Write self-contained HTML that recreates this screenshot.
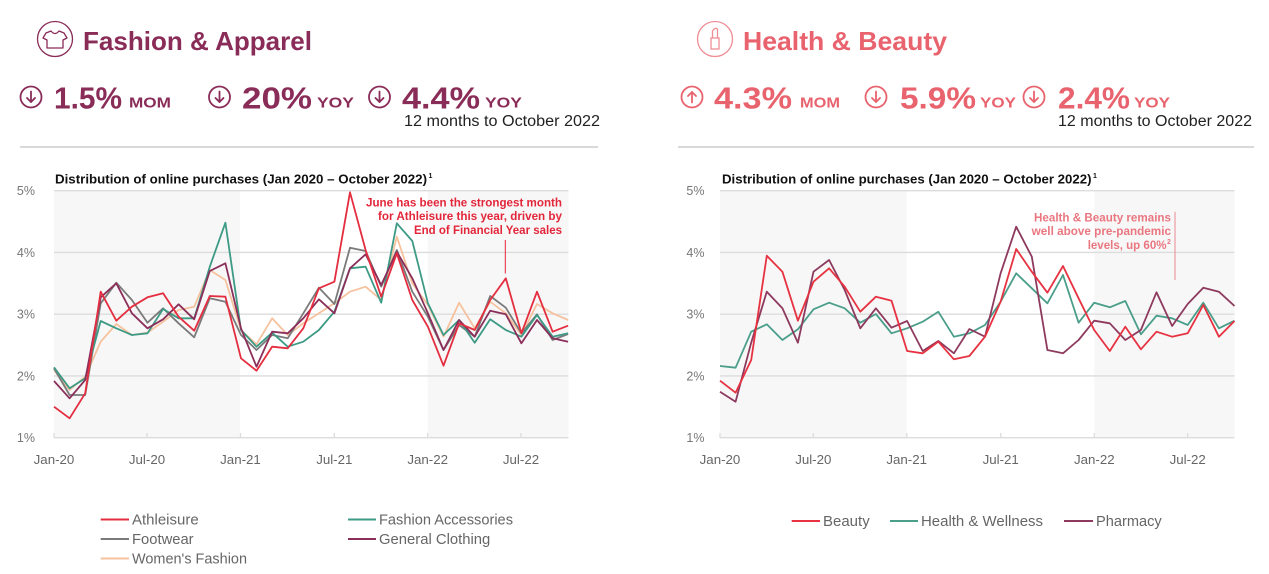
<!DOCTYPE html>
<html>
<head>
<meta charset="utf-8">
<style>
html,body{margin:0;padding:0;background:#fff;}
svg{display:block;}
text{font-family:"Liberation Sans",Arial,sans-serif;}
</style>
</head>
<body>
<svg width="1269" height="574" viewBox="0 0 1269 574" xmlns="http://www.w3.org/2000/svg">
<rect width="1269" height="574" fill="#fff"/>

<!-- ============ LEFT HEADER ============ -->
<g fill="none" stroke="#8a2c58" stroke-width="1.3">
  <circle cx="55" cy="39" r="17.5"/>
  <path d="M51,31 L46,33 L43,38 L47,40 L47,48 L63,48 L63,40 L67,38 L64,33 L59,31 Q55,36 51,31 Z" stroke-linejoin="round"/>
</g>
<text x="83" y="50" font-size="26" font-weight="bold" fill="#8a2c58" textLength="229" lengthAdjust="spacingAndGlyphs">Fashion &amp; Apparel</text>

<g fill="none" stroke="#8a2c58" stroke-width="1.8" stroke-linecap="round" stroke-linejoin="round">
  <circle cx="31" cy="97" r="10.5"/>
  <line x1="31" y1="91.5" x2="31" y2="102"/>
  <polyline points="27,98 31,102 35,98"/>
  <circle cx="219.5" cy="97" r="10.5"/>
  <line x1="219.5" y1="91.5" x2="219.5" y2="102"/>
  <polyline points="215.5,98 219.5,102 223.5,98"/>
  <circle cx="379.5" cy="97" r="10.5"/>
  <line x1="379.5" y1="91.5" x2="379.5" y2="102"/>
  <polyline points="375.5,98 379.5,102 383.5,98"/>
</g>
<g fill="#8a2c58" font-weight="bold">
  <text x="54" y="108.3" font-size="31" textLength="68" lengthAdjust="spacingAndGlyphs">1.5%</text>
  <text x="129" y="107.5" font-size="15" textLength="42" lengthAdjust="spacingAndGlyphs">MOM</text>
  <text x="242" y="108.3" font-size="31" textLength="70" lengthAdjust="spacingAndGlyphs">20%</text>
  <text x="317" y="107.5" font-size="15" textLength="37" lengthAdjust="spacingAndGlyphs">YOY</text>
  <text x="402" y="108.3" font-size="31" textLength="78" lengthAdjust="spacingAndGlyphs">4.4%</text>
  <text x="485" y="107.5" font-size="15" textLength="37" lengthAdjust="spacingAndGlyphs">YOY</text>
</g>
<text x="404" y="126" font-size="15.5" fill="#222" textLength="196" lengthAdjust="spacingAndGlyphs">12 months to October 2022</text>
<line x1="20" y1="147" x2="598" y2="147" stroke="#d9d9d9" stroke-width="2"/>

<!-- ============ RIGHT HEADER ============ -->
<g fill="none" stroke="#ef8e96" stroke-width="1.3">
  <circle cx="715" cy="39" r="17.5"/>
  <rect x="711" y="38" width="8" height="11"/>
  <path d="M712.5,38 L712.5,31 Q715,27 717.5,29 L717.5,38"/>
</g>
<text x="743" y="50" font-size="26" font-weight="bold" fill="#e9636e" textLength="204" lengthAdjust="spacingAndGlyphs">Health &amp; Beauty</text>

<g fill="none" stroke="#e9636e" stroke-width="1.8" stroke-linecap="round" stroke-linejoin="round">
  <circle cx="692" cy="97" r="10.5"/>
  <line x1="692" y1="92" x2="692" y2="102.5"/>
  <polyline points="688,96 692,92 696,96"/>
  <circle cx="876" cy="97" r="10.5"/>
  <line x1="876" y1="91.5" x2="876" y2="102"/>
  <polyline points="872,98 876,102 880,98"/>
  <circle cx="1034" cy="97" r="10.5"/>
  <line x1="1034" y1="91.5" x2="1034" y2="102"/>
  <polyline points="1030,98 1034,102 1038,98"/>
</g>
<g fill="#e9636e" font-weight="bold">
  <text x="714" y="108.3" font-size="31" textLength="78" lengthAdjust="spacingAndGlyphs">4.3%</text>
  <text x="800" y="107.5" font-size="15" textLength="40" lengthAdjust="spacingAndGlyphs">MOM</text>
  <text x="900" y="108.3" font-size="31" textLength="76" lengthAdjust="spacingAndGlyphs">5.9%</text>
  <text x="980" y="107.5" font-size="15" textLength="36" lengthAdjust="spacingAndGlyphs">YOY</text>
  <text x="1058" y="108.3" font-size="31" textLength="72" lengthAdjust="spacingAndGlyphs">2.4%</text>
  <text x="1134" y="107.5" font-size="15" textLength="36" lengthAdjust="spacingAndGlyphs">YOY</text>
</g>
<text x="1058" y="126" font-size="15.5" fill="#222" textLength="194" lengthAdjust="spacingAndGlyphs">12 months to October 2022</text>
<line x1="678" y1="147" x2="1254" y2="147" stroke="#d9d9d9" stroke-width="2"/>

<!-- ============ LEFT CHART ============ -->
<text x="55" y="183.5" font-size="12.5" font-weight="bold" fill="#111" textLength="372" lengthAdjust="spacingAndGlyphs">Distribution of online purchases (Jan 2020 – October 2022)</text>
<text x="428.5" y="178" font-size="7" font-weight="bold" fill="#111">1</text>

<rect x="54" y="190.7" width="186" height="247" fill="#f7f7f7"/>
<rect x="427.7" y="190.7" width="140.8" height="247" fill="#f7f7f7"/>
<g stroke="#dcdcdc" stroke-width="1.3">
  <line x1="54" y1="190.7" x2="568.5" y2="190.7"/>
  <line x1="54" y1="252.45" x2="568.5" y2="252.45"/>
  <line x1="54" y1="314.2" x2="568.5" y2="314.2"/>
  <line x1="54" y1="375.95" x2="568.5" y2="375.95"/>
  <line x1="54" y1="437.7" x2="568.5" y2="437.7"/>
  <line x1="54" y1="433" x2="54" y2="437.7"/>
  <line x1="147" y1="433" x2="147" y2="437.7"/>
  <line x1="240.5" y1="433" x2="240.5" y2="437.7"/>
  <line x1="334.3" y1="433" x2="334.3" y2="437.7"/>
  <line x1="427.7" y1="433" x2="427.7" y2="437.7"/>
  <line x1="521" y1="433" x2="521" y2="437.7"/>
</g>
<g font-size="12.5" fill="#777" text-anchor="end">
  <text x="35" y="195">5%</text>
  <text x="35" y="256.8">4%</text>
  <text x="35" y="318.5">3%</text>
  <text x="35" y="380.3">2%</text>
  <text x="35" y="442">1%</text>
</g>
<g font-size="13.3" fill="#666" text-anchor="middle">
  <text x="54" y="464">Jan-20</text>
  <text x="147" y="464">Jul-20</text>
  <text x="240.5" y="464">Jan-21</text>
  <text x="334.3" y="464">Jul-21</text>
  <text x="427.7" y="464">Jan-22</text>
  <text x="521" y="464">Jul-22</text>
</g>

<g fill="none" stroke-width="1.8" stroke-linejoin="round">
  <polyline stroke="#f6c29e" points="54,370 69.6,390 85.2,376.7 100.7,341.7 116.3,324 131.9,335 147.5,332.7 163.1,321.7 178.6,310 194.2,306.7 209.8,270 225.4,280 241,330 256.5,344.3 272.1,318.3 287.7,335 303.3,323.3 318.9,313.3 334.4,303.3 350,291.7 365.6,286.7 381.2,300 396.8,236.7 412.3,283.3 427.9,305 443.5,336.7 459.1,302.7 474.7,328.3 490.2,301.7 505.8,313.3 521.4,335 537,304 552.6,313.3 568.1,320"/>
  <polyline stroke="#7a7a7a" points="54,368.3 69.6,395 85.2,395 100.7,303.3 116.3,282.7 131.9,300 147.5,322.7 163.1,308.3 178.6,323.3 194.2,337.3 209.8,298.3 225.4,301.7 241,335 256.5,350 272.1,335 287.7,338.3 303.3,313.3 318.9,287.7 334.4,304 350,247.7 365.6,251 381.2,286.7 396.8,250 412.3,291.7 427.9,316.7 443.5,350 459.1,325 474.7,336.7 490.2,296 505.8,307.7 521.4,333.3 537,314.3 552.6,340 568.1,334"/>
  <polyline stroke="#3d9a85" points="54,367.3 69.6,388.3 85.2,378.3 100.7,321 116.3,328.3 131.9,335 147.5,333.3 163.1,309 178.6,318.3 194.2,318.3 209.8,266.7 225.4,222.7 241,330 256.5,346.7 272.1,332.7 287.7,346.7 303.3,341.7 318.9,330 334.4,311.7 350,268.3 365.6,266.7 381.2,302.7 396.8,223.3 412.3,241 427.9,303.3 443.5,335 459.1,320 474.7,342.7 490.2,319.3 505.8,330 521.4,336.7 537,315 552.6,336.7 568.1,333.3"/>
  <polyline stroke="#8b2f5a" points="54,381 69.6,398.3 85.2,380 100.7,297.3 116.3,283.3 131.9,313.3 147.5,328.3 163.1,319.3 178.6,304.3 194.2,319.3 209.8,271 225.4,263.3 241,328.3 256.5,366.7 272.1,331.7 287.7,333.3 303.3,318.3 318.9,299.3 334.4,313.3 350,268.3 365.6,254.3 381.2,285 396.8,251.7 412.3,278.3 427.9,313.3 443.5,350 459.1,320 474.7,336.7 490.2,310.7 505.8,314.3 521.4,343.3 537,320 552.6,338.3 568.1,341.7"/>
  <polyline stroke="#e42d3f" points="54,406.7 69.6,418.3 85.2,393.3 100.7,291.7 116.3,320.7 131.9,306.7 147.5,297.3 163.1,293.3 178.6,316.7 194.2,330.7 209.8,296 225.4,296.7 241,358.3 256.5,370.7 272.1,346.7 287.7,348.3 303.3,328.3 318.9,288.3 334.4,281.7 350,192.3 365.6,250 381.2,296.7 396.8,253.3 412.3,300 427.9,326.7 443.5,365.7 459.1,323.3 474.7,330 490.2,300 505.8,278.3 521.4,333.3 537,291.7 552.6,331.7 568.1,325.7"/>
</g>

<g font-size="11.5" font-weight="bold" fill="#e3263a" text-anchor="end">
  <text x="562" y="206.7" textLength="196" lengthAdjust="spacingAndGlyphs">June has been the strongest month</text>
  <text x="562" y="220" textLength="184" lengthAdjust="spacingAndGlyphs">for Athleisure this year, driven by</text>
  <text x="562" y="234" textLength="148" lengthAdjust="spacingAndGlyphs">End of Financial Year sales</text>
</g>
<line x1="505.3" y1="240" x2="505.3" y2="273.5" stroke="#e3263a" stroke-width="1"/>

<!-- LEFT LEGEND -->
<g stroke-width="2">
  <line x1="100.7" y1="519.5" x2="129" y2="519.5" stroke="#e42d3f"/>
  <line x1="348" y1="519.5" x2="376" y2="519.5" stroke="#3d9a85"/>
  <line x1="100.7" y1="539" x2="129" y2="539" stroke="#7a7a7a"/>
  <line x1="348" y1="539" x2="376" y2="539" stroke="#8b2f5a"/>
  <line x1="100.7" y1="558.5" x2="129" y2="558.5" stroke="#f6c29e"/>
</g>
<g font-size="14.5" fill="#666">
  <text x="132" y="524.5" textLength="66.7" lengthAdjust="spacingAndGlyphs">Athleisure</text>
  <text x="379" y="524.5" textLength="134" lengthAdjust="spacingAndGlyphs">Fashion Accessories</text>
  <text x="132" y="544" textLength="61.6" lengthAdjust="spacingAndGlyphs">Footwear</text>
  <text x="379" y="544" textLength="111.3" lengthAdjust="spacingAndGlyphs">General Clothing</text>
  <text x="132" y="563.5" textLength="115" lengthAdjust="spacingAndGlyphs">Women's Fashion</text>
</g>

<!-- ============ RIGHT CHART ============ -->
<text x="722" y="183.5" font-size="12.5" font-weight="bold" fill="#111" textLength="369.5" lengthAdjust="spacingAndGlyphs">Distribution of online purchases (Jan 2020 – October 2022)</text>
<text x="1093" y="178" font-size="7" font-weight="bold" fill="#111">1</text>

<rect x="720" y="190.7" width="186.7" height="247" fill="#f7f7f7"/>
<rect x="1094.3" y="190.7" width="140.2" height="247" fill="#f7f7f7"/>
<g stroke="#dcdcdc" stroke-width="1.3">
  <line x1="720" y1="190.7" x2="1234.5" y2="190.7"/>
  <line x1="720" y1="252.45" x2="1234.5" y2="252.45"/>
  <line x1="720" y1="314.2" x2="1234.5" y2="314.2"/>
  <line x1="720" y1="375.95" x2="1234.5" y2="375.95"/>
  <line x1="720" y1="437.7" x2="1234.5" y2="437.7"/>
  <line x1="720" y1="433" x2="720" y2="437.7"/>
  <line x1="813.3" y1="433" x2="813.3" y2="437.7"/>
  <line x1="906.7" y1="433" x2="906.7" y2="437.7"/>
  <line x1="1000.7" y1="433" x2="1000.7" y2="437.7"/>
  <line x1="1094.3" y1="433" x2="1094.3" y2="437.7"/>
  <line x1="1187.7" y1="433" x2="1187.7" y2="437.7"/>
</g>
<g font-size="12.5" fill="#777" text-anchor="end">
  <text x="704.5" y="195">5%</text>
  <text x="704.5" y="256.8">4%</text>
  <text x="704.5" y="318.5">3%</text>
  <text x="704.5" y="380.3">2%</text>
  <text x="704.5" y="442">1%</text>
</g>
<g font-size="13.3" fill="#666" text-anchor="middle">
  <text x="720" y="464">Jan-20</text>
  <text x="813.3" y="464">Jul-20</text>
  <text x="906.7" y="464">Jan-21</text>
  <text x="1000.7" y="464">Jul-21</text>
  <text x="1094.3" y="464">Jan-22</text>
  <text x="1187.7" y="464">Jul-22</text>
</g>

<g fill="none" stroke-width="1.8" stroke-linejoin="round">
  <polyline stroke="#4a9e8a" points="720,366 735.6,367.7 751.2,331.7 766.8,324.3 782.4,340 797.9,329.3 813.5,309.3 829.1,302.7 844.7,308.3 860.3,322.7 875.9,314 891.5,333.3 907.1,328.3 922.7,321.7 938.3,311.7 953.9,336.7 969.4,333.3 985,325 1000.6,301.7 1016.2,273.3 1031.8,288.3 1047.4,303.3 1063,275 1078.6,322.7 1094.2,302.7 1109.8,307.3 1125.3,301 1140.9,334.3 1156.5,315.7 1172.1,318.3 1187.7,325 1203.3,302.7 1218.9,328.3 1234.5,320.7"/>
  <polyline stroke="#8e3a5e" points="720,391.7 735.6,401.7 751.2,342.7 766.8,291.7 782.4,308.3 797.9,342.7 813.5,271.7 829.1,260 844.7,290 860.3,328.3 875.9,308.3 891.5,327.7 907.1,321 922.7,351 938.3,341 953.9,353.3 969.4,329 985,336.7 1000.6,273.3 1016.2,226.7 1031.8,256.7 1047.4,350 1063,353.3 1078.6,340 1094.2,320.7 1109.8,323.3 1125.3,340 1140.9,330 1156.5,292.3 1172.1,326 1187.7,304 1203.3,287.7 1218.9,291.7 1234.5,306"/>
  <polyline stroke="#e63241" points="720,380.7 735.6,392.7 751.2,360 766.8,255.7 782.4,271.7 797.9,320.7 813.5,281.7 829.1,268.3 844.7,286.7 860.3,311.7 875.9,296.7 891.5,300.7 907.1,351 922.7,353.3 938.3,341.7 953.9,359.3 969.4,356 985,336.7 1000.6,301.7 1016.2,249 1031.8,271.7 1047.4,292.7 1063,266 1078.6,298.3 1094.2,330 1109.8,351 1125.3,326.7 1140.9,349.3 1156.5,331.7 1172.1,336.7 1187.7,333.3 1203.3,305 1218.9,336.7 1234.5,321"/>
</g>

<g font-size="11.5" font-weight="bold" fill="#ea7680" text-anchor="end">
  <text x="1171" y="221.3" textLength="137" lengthAdjust="spacingAndGlyphs">Health &amp; Beauty remains</text>
  <text x="1171" y="235" textLength="139.3" lengthAdjust="spacingAndGlyphs">well above pre-pandemic</text>
  <text x="1166.5" y="249" textLength="78.8" lengthAdjust="spacingAndGlyphs">levels, up 60%</text>
</g>
<text x="1167" y="244" font-size="7" font-weight="bold" fill="#ea7680">2</text>
<line x1="1175" y1="211.7" x2="1175" y2="280" stroke="#ea8a92" stroke-width="1"/>

<!-- RIGHT LEGEND -->
<g stroke-width="2">
  <line x1="791.7" y1="521" x2="820" y2="521" stroke="#e63241"/>
  <line x1="890" y1="521" x2="918" y2="521" stroke="#4a9e8a"/>
  <line x1="1064" y1="521" x2="1093" y2="521" stroke="#8e3a5e"/>
</g>
<g font-size="14.5" fill="#666">
  <text x="823" y="526" textLength="46.7" lengthAdjust="spacingAndGlyphs">Beauty</text>
  <text x="921" y="526" textLength="122" lengthAdjust="spacingAndGlyphs">Health &amp; Wellness</text>
  <text x="1096" y="526" textLength="65.7" lengthAdjust="spacingAndGlyphs">Pharmacy</text>
</g>
</svg>
</body>
</html>
